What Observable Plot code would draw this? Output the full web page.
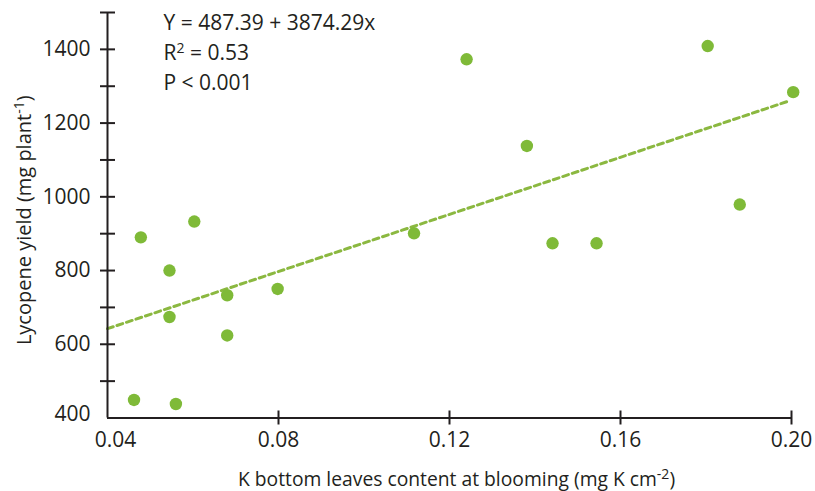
<!DOCTYPE html>
<html><head><meta charset="utf-8">
<script src="https://cdn.jsdelivr.net/npm/d3@7"></script>
<script src="https://cdn.jsdelivr.net/npm/@observablehq/plot@0.6"></script>
<style>
html,body{margin:0;padding:0;background:#fff}
</style></head><body><div id="chart"></div>
<script>
// ---- data ----
const kContent = [0.0462, 0.0560, 0.0478, 0.0603, 0.0545, 0.0545, 0.0680, 0.0680, 0.0798,
                  0.1117, 0.1240, 0.1381, 0.1441, 0.1544, 0.1804, 0.1879, 0.2004];
const lycopene = [449, 438, 890, 933, 800, 674, 733, 624, 750,
                  901, 1373, 1138, 874, 874, 1409, 979, 1284];
const intercept = 487.39;
const slope = 3874.29;
const fitRange = [0.04, 0.199];
const xTicks = [0.04, 0.08, 0.12, 0.16, 0.20];
const yTickLabels = [400, 600, 800, 1000, 1200, 1400];
const yTickMarks = [500, 600, 700, 800, 900, 1000, 1100, 1200, 1300, 1400, 1500];
const statLines = ["Y = 487.39 + 3874.29x", "R^{2} = 0.53", "P < 0.001"];
const xTitle = "K bottom leaves content at blooming (mg K cm^{-2})";
const yTitle = "Lycopene yield (mg plant^{-1})";

const points = kContent.map((x, i) => ({x, y: lycopene[i]}));
const fit = fitRange.map(x => ({x, y: intercept + slope * x}));

const FONT = '"Open Sans","Noto Sans",sans-serif';
const FS = 21;
const ink = "#231f20";
const green = "#7fba38";
const ml = 107, mr = 24, mt = 12, mb = 73.5;

const chart = Plot.plot({
  width: 815, height: 491,
  marginLeft: ml, marginRight: mr, marginTop: mt, marginBottom: mb,
  style: {fontFamily: FONT, fontSize: FS + "px", color: ink, background: "#fff", overflow: "visible"},
  x: {domain: [0.04, 0.20]},
  y: {domain: [400, 1500]},
  marks: [
    Plot.line(fit, {x: "x", y: "y", stroke: "#8bb840", strokeWidth: 3, strokeDasharray: "6,4"}),
    Plot.dot(points, {x: "x", y: "y", r: 6.2, fill: green}),
    Plot.ruleX([0.04], {stroke: ink, strokeWidth: 2}),
    Plot.ruleY([400], {stroke: ink, strokeWidth: 2}),
    Plot.axisY(yTickMarks, {tickSize: 15, dx: 8, text: null, label: null, stroke: ink, strokeWidth: 2}),
    Plot.axisY(yTickLabels.filter(d => d !== 400), {tickSize: 0, tickPadding: 17, label: null, fill: ink, tickFormat: d3.format("d")}),
    Plot.axisY([400], {tickSize: 0, tickPadding: 17, dy: -4, label: null, fill: ink, tickFormat: d3.format("d")}),
    Plot.axisX(xTicks.slice(1), {tickSize: 14, dy: -7, text: null, label: null, stroke: ink, strokeWidth: 2}),
    Plot.axisX(xTicks.slice(1), {tickSize: 0, tickPadding: 14, label: null, fill: ink, tickFormat: d3.format(".2f")}),
    Plot.axisX([0.04], {tickSize: 0, tickPadding: 14, dx: 8, label: null, fill: ink, tickFormat: d3.format(".2f")}),
    ...statLines.map((s, i) => Plot.text([s], {
      frameAnchor: "top-left", textAnchor: "start", lineAnchor: "bottom",
      dx: 56, dy: 17.5 + 30 * i, fill: ink, fontSize: FS
    })),
    Plot.text([xTitle], {frameAnchor: "bottom", textAnchor: "middle", lineAnchor: "bottom", dx: 7, dy: 67.5, fill: ink, fontSize: 19.3}),
    Plot.text([yTitle], {frameAnchor: "left", textAnchor: "middle", rotate: -90, lineAnchor: "bottom", dx: -77, dy: 5, fill: ink, fontSize: 20})
  ]
});

// superscripts: turn "^{...}" into raised tspans
d3.select(chart).selectAll("text").each(function() {
  const t = this.textContent;
  if (!t.includes("^{")) return;
  const el = d3.select(this);
  el.text(null);
  const parts = t.split(/(\^\{[^}]*\})/);
  let raised = false;
  for (const p of parts) {
    if (!p) continue;
    const m = p.match(/^\^\{([^}]*)\}$/);
    if (m) {
      el.append("tspan").attr("dy", -7).attr("font-size", 14).text(m[1]);
      raised = true;
    } else {
      const ts = el.append("tspan").text(p);
      if (raised) { ts.attr("dy", 7); raised = false; }
    }
  }
});

document.getElementById("chart").appendChild(chart);
</script>
</body></html>
